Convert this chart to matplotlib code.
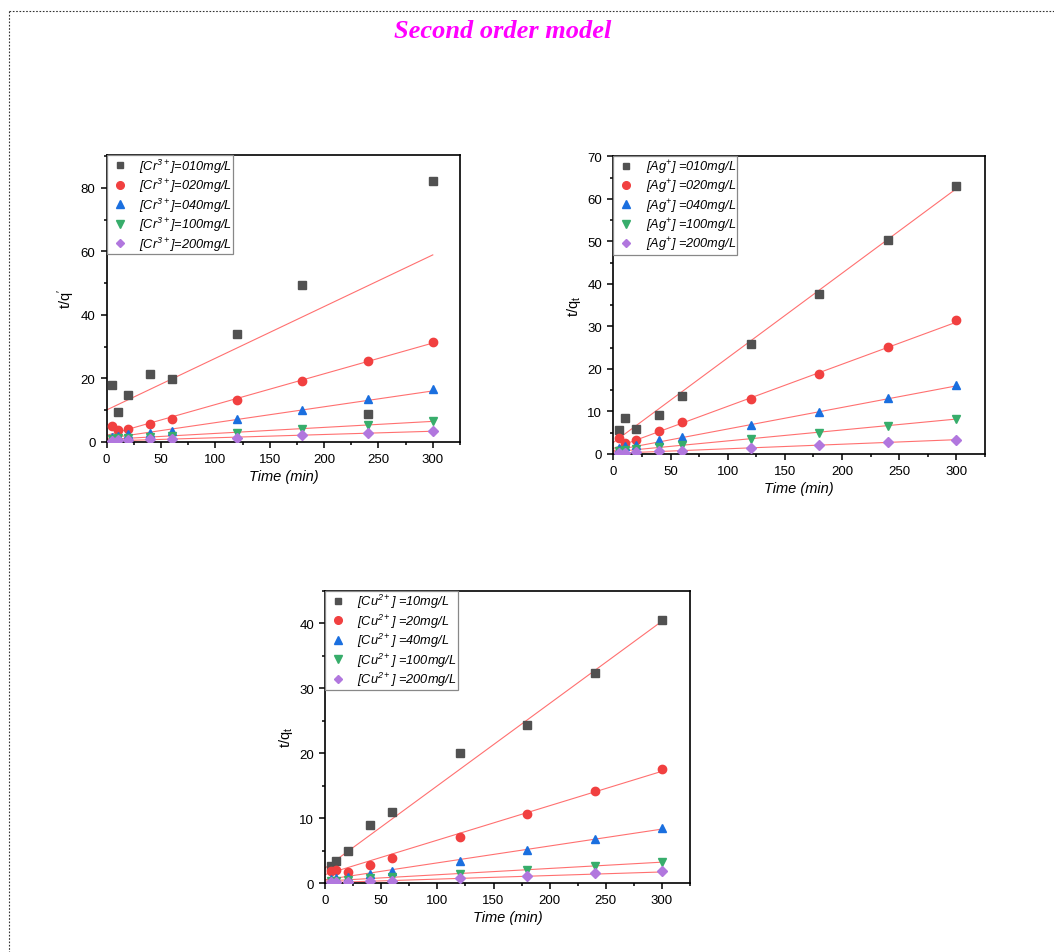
import matplotlib
matplotlib.use("Agg")
import matplotlib.pyplot as plt
from matplotlib.ticker import MultipleLocator
from matplotlib.lines import Line2D
import numpy as np

plt.rcParams['font.family'] = ['Liberation Sans', 'DejaVu Sans']
plt.rcParams['mathtext.default'] = 'regular'

# Temps de contact (min)
time = [5, 10, 20, 40, 60, 120, 180, 240, 300]

# Cr3+
cr_10 = [17.9, 9.5, 14.8, 21.4, 19.8, 34.1, 49.4, 8.7, 82.3]
cr_20 = [4.9, 3.7, 3.9, 5.5, 7.3, 13.2, 19.0, 25.3, 31.5]
cr_40 = [1.5, 1.9, 2.3, 2.6, 3.5, 7.1, 10.0, 13.3, 16.5]
cr_100 = [0.9, 1.0, 1.1, 1.5, 1.7, 2.8, 4.0, 5.3, 6.5]
cr_200 = [0.3, 0.4, 0.5, 0.7, 0.8, 1.3, 2.1, 2.7, 3.3]
cr_fit_b = [10.0, 2.0, 1.0, 0.7, 0.2]
cr_fit_a = [0.163, 0.097, 0.050, 0.019, 0.0103]

# Ag+
ag_10 = [5.6, 8.5, 5.9, 9.2, 13.6, 25.9, 37.7, 50.3, 62.9]
ag_20 = [3.8, 2.6, 3.2, 5.4, 7.4, 12.9, 18.9, 25.2, 31.4]
ag_40 = [1.5, 1.8, 2.0, 3.2, 4.1, 6.8, 9.9, 13.1, 16.3]
ag_100 = [0.8, 1.0, 1.2, 1.6, 2.0, 3.6, 5.0, 6.6, 8.3]
ag_200 = [0.2, 0.3, 0.4, 0.6, 0.7, 1.5, 2.0, 2.7, 3.4]
ag_fit_b = [2.7, 1.3, 0.8, 0.5, 0.15]
ag_fit_a = [0.199, 0.099, 0.0507, 0.0257, 0.0107]

# Cu2+
cu_10 = [2.6, 3.4, 4.9, 8.9, 10.9, 20.0, 24.3, 32.4, 40.5]
cu_20 = [1.9, 2.05, 1.7, 2.8, 3.9, 7.1, 10.6, 14.1, 17.5]
cu_40 = [0.6, 0.7, 1.0, 1.4, 1.8, 3.4, 5.1, 6.8, 8.4]
cu_100 = [0.3, 0.3, 0.4, 0.8, 0.9, 1.4, 2.0, 2.6, 3.2]
cu_200 = [0.1, 0.15, 0.2, 0.3, 0.35, 0.7, 1.1, 1.5, 1.8]
cu_fit_b = [2.3, 1.3, 0.5, 0.3, 0.05]
cu_fit_a = [0.1267, 0.053, 0.026, 0.0097, 0.0055]

cr_labels = ["[Cr$^{3+}$]=010mg/L", "[Cr$^{3+}$]=020mg/L", "[Cr$^{3+}$]=040mg/L",
             "[Cr$^{3+}$]=100mg/L", "[Cr$^{3+}$]=200mg/L"]
ag_labels = ["[Ag$^{+}$] =010mg/L", "[Ag$^{+}$] =020mg/L", "[Ag$^{+}$] =040mg/L",
             "[Ag$^{+}$] =100mg/L", "[Ag$^{+}$] =200mg/L"]
cu_labels = ["[Cu$^{2+}$] =10mg/L", "[Cu$^{2+}$] =20mg/L", "[Cu$^{2+}$] =40mg/L",
             "[Cu$^{2+}$] =100mg/L", "[Cu$^{2+}$] =200mg/L"]

colors = ['#515151', '#F14040', '#1A6FDF', '#37AD6B', '#B177DE']
markers = ['s', 'o', '^', 'v', 'D']
msizes = [5.5, 6, 6, 6, 5]
fit_color = '#FF7070'

fig = plt.figure(figsize=(10.54, 9.53), dpi=100)


def draw_panel(rect, series, fit_b, fit_a, labels, ylabel, ylim, ymajor, yminor):
    ax = fig.add_axes(rect)
    xx = np.array([0, 300])
    for i in range(5):
        ax.plot(time, series[i], linestyle='none', marker=markers[i], ms=msizes[i],
                color=colors[i], zorder=3)
        ax.plot(xx, fit_b[i] + fit_a[i] * xx, color=fit_color, lw=0.8, zorder=2)
    ax.set_xlim(0, 325)
    ax.set_ylim(*ylim)
    ax.xaxis.set_major_locator(MultipleLocator(50))
    ax.xaxis.set_minor_locator(MultipleLocator(25))
    ax.yaxis.set_major_locator(MultipleLocator(ymajor))
    ax.yaxis.set_minor_locator(MultipleLocator(yminor))
    ax.tick_params(which='both', direction='out', top=False, right=False,
                   labelsize=9.5, width=1.1)
    ax.tick_params(which='major', length=4.5)
    ax.tick_params(which='minor', length=2.5)
    for s in ax.spines.values():
        s.set_linewidth(1.2)
    ax.set_xlabel("Time (min)", fontsize=10.5, fontstyle='italic', labelpad=3)
    ax.set_ylabel(ylabel, fontsize=10.5, labelpad=3)
    handles = [Line2D([], [], linestyle='none', marker=markers[i], ms=msizes[i] - 0.5,
                      color=colors[i]) for i in range(5)]
    leg = ax.legend(handles, labels, loc='upper left', borderaxespad=0,
                    fancybox=False, framealpha=1, handletextpad=0.6,
                    prop={'size': 9.2, 'style': 'italic'}, labelspacing=0.1,
                    borderpad=0.12, handlelength=1.8)
    leg.get_frame().set_edgecolor('#888888')
    leg.get_frame().set_linewidth(0.9)
    return ax


draw_panel([0.1012, 0.5355, 0.3352, 0.3008],
           [cr_10, cr_20, cr_40, cr_100, cr_200], cr_fit_b, cr_fit_a,
           cr_labels, "t/q$^{\\prime}$", (0, 90.4), 20, 10)
draw_panel([0.5819, 0.5226, 0.3527, 0.3124],
           [ag_10, ag_20, ag_40, ag_100, ag_200], ag_fit_b, ag_fit_a,
           ag_labels, "t/q$_t$", (0, 70), 10, 5)
draw_panel([0.3084, 0.0724, 0.3463, 0.3067],
           [cu_10, cu_20, cu_40, cu_100, cu_200], cu_fit_b, cu_fit_a,
           cu_labels, "t/q$_t$", (0, 45), 10, 5)

# Titre
fig.text(0.477, 0.967, "Second order model", ha='center', va='center',
         color='#FF00FF', fontsize=19, fontweight='bold', fontstyle='italic',
         family='Liberation Serif')

# Cadre pointille de la page
fig.add_artist(Line2D([9 / 1054, 1], [1 - 12 / 953, 1 - 12 / 953],
                      transform=fig.transFigure, color='#333333', lw=0.8,
                      linestyle=(0, (1.5, 1.5))))
fig.add_artist(Line2D([9 / 1054, 9 / 1054], [1 - 12 / 953, 0],
                      transform=fig.transFigure, color='#333333', lw=0.8,
                      linestyle=(0, (1.5, 1.5))))

fig.savefig("out.png", dpi=100)
